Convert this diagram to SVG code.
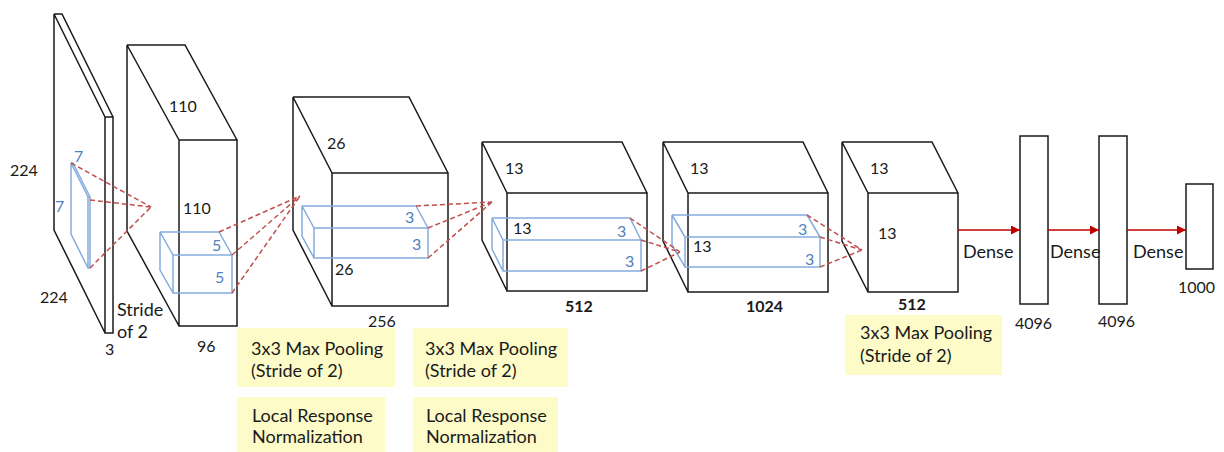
<svg xmlns="http://www.w3.org/2000/svg" width="1224" height="452" viewBox="0 0 1224 452">
<defs>
<style>
.blk{fill:none;stroke:#1a1a1a;stroke-width:1.5;stroke-linejoin:miter}
.blu{fill:none;stroke:#86acdc;stroke-width:1.5}
.dash{fill:none;stroke:#c0504d;stroke-width:1.5;stroke-dasharray:5 3}
.arr{fill:none;stroke:#c00000;stroke-width:1.5}
.t{font-family:Lato,"Open Sans",sans-serif;font-size:16px;fill:#1a1a1a}
.w{font-family:Lato,"Open Sans",sans-serif;font-size:18px;fill:#1a1a1a}
.tb{font-family:Lato,"Open Sans",sans-serif;font-size:16px;fill:#1a1a1a;font-weight:bold}
.tl{font-family:Lato,"Open Sans",sans-serif;font-size:16px;fill:#4f81bd}
.note{fill:#fdfbc8}
</style>
<marker id="ah" viewBox="0 0 10 10" refX="10" refY="5" markerWidth="10" markerHeight="9" markerUnits="userSpaceOnUse" orient="auto">
<path d="M0,0 L10,5 L0,10 z" fill="#c00000"/>
</marker>
</defs>
<rect width="1224" height="452" fill="#ffffff"/>

<g id="input">
<path class="blk" d="M105,117 H113 V333 H105 Z M54,14 H62 L113,117 M54,14 L105,117 M54,14 V230 L105,333"/>
<path class="blu" d="M88,197 H90 V268 H88 Z M71,163 L88,197 M71,163 L73,163 L90,197 M71,163 V234 L88,268"/>
<text class="tl" x="74" y="162">7</text>
<text class="tl" x="55" y="212">7</text>
<text class="t" x="10" y="176">224</text>
<text class="t" x="40" y="303">224</text>
<text class="t" x="105" y="355">3</text>
<text class="w" x="117" y="316">Stride</text>
<text class="w" x="117" y="338">of 2</text>
</g>

<g id="conv1">
<path class="blk" d="M179,140 H237 V326 H179 Z M127,45 H185 L237,140 M127,45 L179,140 M127,45 V231 L179,326"/>
<path class="blu" d="M173,255 H232 V293 H173 Z M160,232 H219 L232,255 M160,232 L173,255 M160,232 V270 L173,293"/>
<text class="t" x="169" y="112">110</text>
<text class="t" x="183" y="214">110</text>
<text class="tl" x="212" y="251">5</text>
<text class="tl" x="215" y="283">5</text>
<text class="t" x="197" y="352">96</text>
</g>

<g id="conv2">
<path class="blk" d="M332,173 H448 V306 H332 Z M293,97 H409 L448,173 M293,97 L332,173 M293,97 V230 L332,306"/>
<path class="blu" d="M314,228 H428 V258 H314 Z M302,206 H416 L428,228 M302,206 L314,228 M302,206 V236 L314,258"/>
<text class="t" x="327" y="149">26</text>
<text class="t" x="335" y="275">26</text>
<text class="tl" x="405" y="223">3</text>
<text class="tl" x="412" y="250">3</text>
<text class="t" x="368" y="327">256</text>
</g>

<g id="conv3">
<path class="blk" d="M507,193 H647 V291 H507 Z M482,142 H622 L647,193 M482,142 L507,193 M482,142 V240 L507,291"/>
<path class="blu" d="M503,240 H641 V271 H503 Z M492,218 H630 L641,240 M492,218 L503,240 M492,218 V249 L503,271"/>
<text class="t" x="505" y="174">13</text>
<text class="t" x="513" y="234">13</text>
<text class="tl" x="617" y="237">3</text>
<text class="tl" x="625" y="267">3</text>
<text class="tb" x="565" y="312">512</text>
</g>

<g id="conv4">
<path class="blk" d="M688,193 H828 V292 H688 Z M663,142 H803 L828,193 M663,142 L688,193 M663,142 V241 L688,292"/>
<path class="blu" d="M685,237 H820 V267 H685 Z M672,215 H807 L820,237 M672,215 L685,237 M672,215 V245 L685,267"/>
<text class="t" x="690" y="174">13</text>
<text class="t" x="693" y="252">13</text>
<text class="tl" x="798" y="235">3</text>
<text class="tl" x="805" y="265">3</text>
<text class="tb" x="746" y="312">1024</text>
</g>

<g id="conv5">
<path class="blk" d="M868,193 H958 V292 H868 Z M842,142 H932 L958,193 M842,142 L868,193 M842,142 V241 L868,292"/>
<text class="t" x="870" y="174">13</text>
<text class="t" x="878" y="239">13</text>
<text class="tb" x="898" y="310">512</text>
</g>

<g id="fc1">
<rect class="blk" x="1020" y="136" width="28" height="168"/>
<text class="t" x="1015" y="329">4096</text>
</g>
<g id="fc2">
<rect class="blk" x="1099" y="136" width="28" height="168"/>
<text class="t" x="1098" y="327">4096</text>
</g>
<g id="fc3">
<rect class="blk" x="1186" y="184" width="27" height="85"/>
<text class="t" x="1178" y="293">1000</text>
</g>

<g id="notes">
<rect class="note" x="237" y="328" width="158" height="59"/>
<text class="w" x="251" y="355">3x3 Max Pooling</text>
<text class="w" x="251" y="377">(Stride of 2)</text>
<rect class="note" x="413" y="328" width="155" height="59"/>
<text class="w" x="425" y="355">3x3 Max Pooling</text>
<text class="w" x="425" y="377">(Stride of 2)</text>
<rect class="note" x="237" y="397" width="148" height="55"/>
<text class="w" x="252" y="422">Local Response</text>
<text class="w" x="252" y="443">Normalization</text>
<rect class="note" x="413" y="397" width="145" height="55"/>
<text class="w" x="426" y="422">Local Response</text>
<text class="w" x="426" y="443">Normalization</text>
<rect class="note" x="845" y="315" width="157" height="60"/>
<text class="w" x="860" y="339">3x3 Max Pooling</text>
<text class="w" x="860" y="362">(Stride of 2)</text>
</g>

<g id="connectors">
<path class="dash" d="M71,163 L151,207 M90,200 L151,207 M90,268 L151,207"/>
<path class="dash" d="M219,232 L300,196 M232,255 L300,196 M232,293 L300,196"/>
<path class="dash" d="M416,206 L492,202 M428,228 L492,202 M428,258 L492,202"/>
<path class="dash" d="M630,218 L680,252 M641,240 L680,252 M641,271 L680,252"/>
<path class="dash" d="M807,215 L862,250 M820,237 L862,250 M820,267 L862,250"/>
<path class="arr" d="M958,230 H1020" marker-end="url(#ah)"/>
<path class="arr" d="M1048,230 H1099" marker-end="url(#ah)"/>
<path class="arr" d="M1127,230 H1186" marker-end="url(#ah)"/>
<text class="w" x="963" y="258">Dense</text>
<text class="w" x="1050" y="258">Dense</text>
<text class="w" x="1133" y="258">Dense</text>
</g>
</svg>
